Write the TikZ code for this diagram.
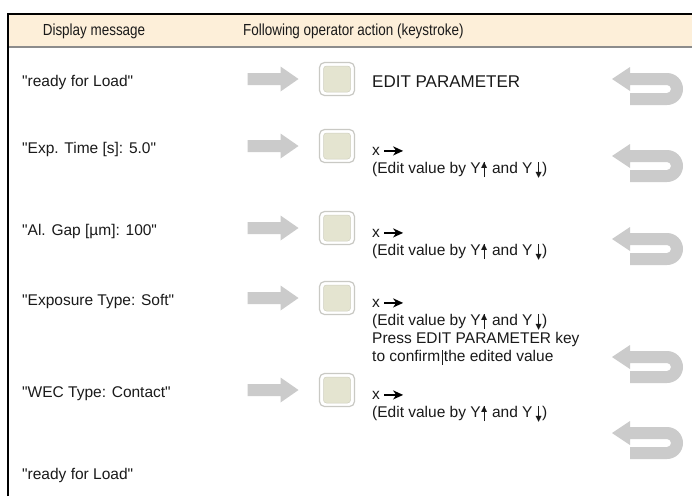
\documentclass[tikz,border=0pt]{standalone}
\usepackage{fontspec}
\setmainfont{Liberation Sans}[Ligatures=TeXOff]
\newfontfamily\hdrfont{Liberation Sans}[FakeStretch=0.84,Ligatures=TeXOff]
\newfontfamily\dejavu{DejaVu Sans}
\usetikzlibrary{arrows.meta}
\definecolor{hdrfill}{HTML}{FDEFD9}
\definecolor{keyfill}{HTML}{E4E4D0}
\definecolor{keyedge}{HTML}{C9C9C4}
\definecolor{arrgray}{HTML}{CBCBCB}
\definecolor{hdrline}{HTML}{8C8C8C}
\definecolor{txt}{HTML}{1A1A1A}
\newcommand\upar{\makebox[7pt][c]{\raisebox{-3.5pt}{\rule{1pt}{15.5pt}}}\kern-7pt\makebox[7pt][c]{\raisebox{6pt}{\dejavu\fontsize{8}{8}\selectfont ▲}}}
\newcommand\dnar{\makebox[7pt][c]{\raisebox{-3.5pt}{\rule{1pt}{15.5pt}}}\kern-7pt\makebox[7pt][c]{\raisebox{-4pt}{\dejavu\fontsize{8}{8}\selectfont ▼}}}
\newcommand\edline{(Edit value by Y\upar{} and Y\,\dnar)}
\tikzset{
  lbl/.style={anchor=base west, inner sep=0pt, text=txt, font=\fontsize{15.5}{18}\selectfont},
  hdr/.style={anchor=base, inner sep=0pt, text=txt, font=\hdrfont\fontsize{16}{18}\selectfont},
  keyout/.style={draw=keyedge, line width=1.2pt, rounded corners=5pt, fill=white, minimum width=35pt, minimum height=33pt, inner sep=0pt},
  keyin/.style={draw=keyfill!80!gray, line width=0.5pt, rounded corners=3pt, fill=keyfill, minimum width=27pt, minimum height=26pt, inner sep=0pt},
  xarrow/.style={draw=black, line width=1.8pt, -{Stealth[length=10pt,width=9pt,inset=3pt]}},
  grayarrow/.pic={\fill[arrgray] (-25.5,-6) -- (7.5,-6) -- (7.5,-12.5) -- (25.5,0) -- (7.5,12.5) -- (7.5,6) -- (-25.5,6) -- cycle;},
  uturn/.pic={\fill[arrgray] (-37,-16) -- (0,-16) arc(-90:90:16) -- (-37,16) -- (-37,22) -- (-55,10) -- (-37,-2) -- (-37,4) -- (0,4) arc(90:-90:4) -- (-37,-4) -- cycle;}
}
\begin{document}
\begin{tikzpicture}[x=1pt,y=1pt,yscale=-1]
\useasboundingbox (0,0) rectangle (692,496);
\fill[white] (0,0) rectangle (692,496);
% header
\fill[hdrfill] (8,14) rectangle (692,47);
\draw[hdrline, line width=2pt] (8,47) -- (692,47);
\draw[black, line width=1.5pt] (8,496) -- (8,14) -- (692,14);
\node[hdr] (h1) at (94,35) {Display message};
\node[hdr, anchor=base west] (h2) at (243,35) {Following operator action (keystroke)};
% rows
\foreach \r [count=\i] in {79,146,228,298,390} {
  \pic at (273,\r) {grayarrow};
  \node[keyout] (k\i) at (337,\r) {};
  \node[keyin] (ki\i) at (k\i) {};
}
\node[lbl] (l1) at (22,86.5) {"ready for Load"};
\node[lbl] (l2) at (22,153.5) {"Exp. Time [s]: 5.0"};
\node[lbl] (l3) at (22,235.5) {"Al. Gap [µm]: 100"};
\node[lbl] (l4) at (22,305.5) {"Exposure Type: Soft"};
\node[lbl] (l5) at (22,397.5) {"WEC Type: Contact"};
\node[lbl] (l6) at (22,479) {"ready for Load"};
% actions
\node[lbl, font=\fontsize{17}{20}\selectfont] (a1) at (372,87) {EDIT PARAMETER};
\foreach \r/\n in {146/2,228/3,298/4,390/5} {
  \node[lbl] (x\n) at (372,\r+9.5) {x};
  \draw[xarrow] ([xshift=4pt,yshift=-0.5pt]x\n.east) -- ++(19,0);
  \node[lbl] (e\n) at (372,\r+27.5) {\edline};
}
\node[lbl] (p4) at (372,298+45.5) {Press EDIT PARAMETER key};
\node[lbl] (c4) at (372,298+63.5) {to confirm\kern1.5pt\rule[-3pt]{0.7pt}{15pt}\kern1.5pt the edited value};
% u-turn arrows
\pic at (667,89) {uturn};
\pic at (667,166) {uturn};
\pic at (667,249) {uturn};
\pic at (667,367) {uturn};
\pic at (667,443) {uturn};
\end{tikzpicture}
\end{document}
